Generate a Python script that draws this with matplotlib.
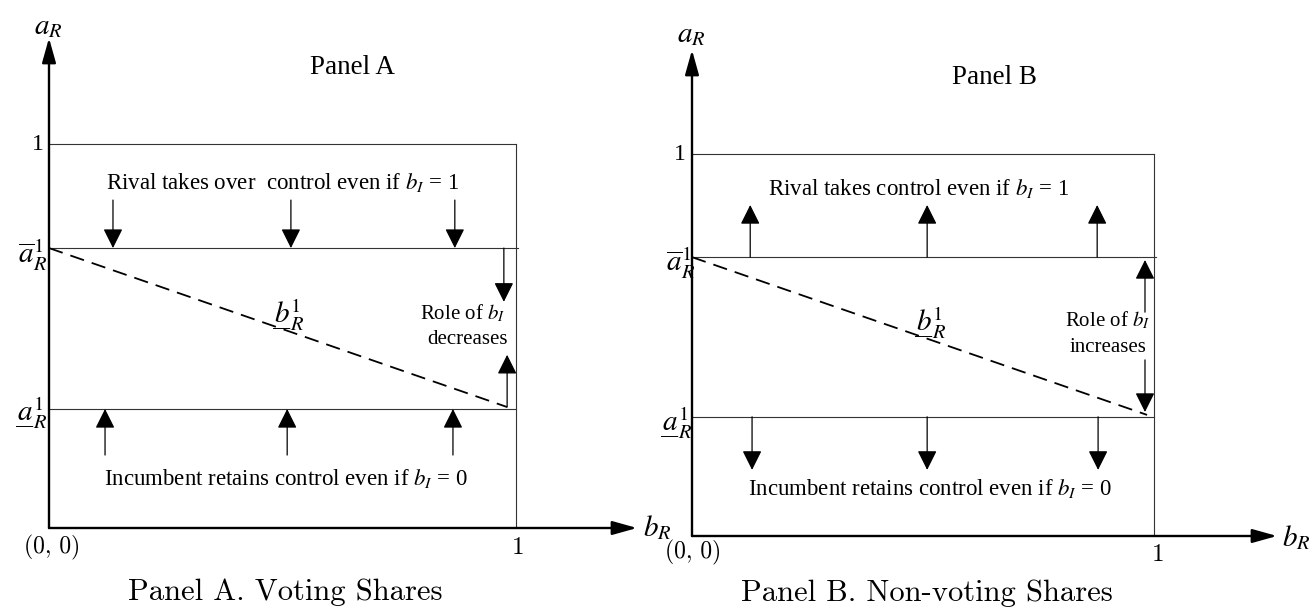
import matplotlib
matplotlib.use("Agg")
import matplotlib.pyplot as plt

plt.rcParams["mathtext.fontset"] = "stix"
plt.rcParams["font.family"] = ["Liberation Serif", "DejaVu Serif"]

# thresholds and arrow positions (a_R, b_R units) for both panels
panel_names = ["Panel A", "Panel B"]
panel_titles = ["Panel A. Voting Shares", "Panel B. Non-voting Shares"]
a_upper = [0.729, 0.730]
a_lower = [0.310, 0.312]
dash_end_x = [0.981, 0.985]
dash_end_y = [0.315, 0.317]
top_arrow_x = [[0.137, 0.518, 0.869], [0.126, 0.509, 0.877]]
bot_arrow_x = [[0.120, 0.510, 0.865], [0.130, 0.509, 0.879]]
top_far = [0.854, 0.8665]
bot_far = [0.190, 0.173]
toward_band = [True, False]
right_x = [[0.974, 0.981], [0.9805, 0.9805]]
right_upper = [(0.729, 0.589), (0.586, 0.7225)]
right_lower = [(0.315, 0.451), (0.461, 0.3246)]
top_text = ["Rival takes over  control even if $b_I$ = 1",
            "Rival takes control even if $b_I$ = 1"]
bot_text = ["Incumbent retains control even if $b_I$ = 0",
            "Incumbent retains control even if $b_I$ = 0"]
role_text = ["decreases", "increases"]

# pixel layout of each panel: origin, (1,1) corner
W, H = 1314, 609
layout = [dict(rect=[0, 0, 0.5, 1], x0=49, x1=516, y0=528, y1=144),
          dict(rect=[0.5, 0, 0.5, 1], x0=692, x1=1154, y0=536, y1=154)]

fig = plt.figure(figsize=(W / 100, H / 100), dpi=100)


def arrow(ax, x0, y0, x1, y1, lw=0.9, ms=12, head="head_length=1.0,head_width=0.5"):
    ax.annotate("", xy=(x1, y1), xytext=(x0, y0),
                arrowprops=dict(arrowstyle="-|>," + head, mutation_scale=ms,
                                lw=lw, color="black", shrinkA=0, shrinkB=0))


for i in range(2):
    L = layout[i]
    ax = fig.add_axes(L["rect"])
    sx = L["x1"] - L["x0"]
    sy = L["y0"] - L["y1"]
    left = L["rect"][0] * W
    right = (L["rect"][0] + L["rect"][2]) * W
    ax.set_xlim((left - L["x0"]) / sx, (right - L["x0"]) / sx)
    ax.set_ylim((L["y0"] - H) / sy, L["y0"] / sy)
    ax.axis("off")

    def P(px, py):
        return (px - L["x0"]) / sx, (L["y0"] - py) / sy

    au, al = a_upper[i], a_lower[i]

    # box lines
    box = dict(color="#333333", lw=0.8)
    ax.plot([0, 1], [1, 1], **box)
    ax.plot([1, 1], [0, 1], **box)
    ax.plot([0, 1.005], [au, au], **box)
    ax.plot([0, 1], [al, al], **box)
    ax.plot([0, dash_end_x[i]], [au, dash_end_y[i]], color="black", lw=1.3,
            linestyle=(0, (8, 4.5)))

    # axes
    xtip = P(637, 0)[0] if i == 0 else P(1277, 0)[0]
    ytip = P(0, 38)[1] if i == 0 else P(0, 50)[1]
    arrow(ax, 0, 0, xtip, 0, lw=1.7, ms=10, head="head_length=1.5,head_width=0.42")
    arrow(ax, 0, 0, 0, ytip, lw=1.7, ms=10, head="head_length=1.5,head_width=0.42")

    # region arrows
    for x in top_arrow_x[i]:
        if toward_band[i]:
            arrow(ax, x, top_far[i], x, au)
        else:
            arrow(ax, x, au, x, top_far[i])
    for x in bot_arrow_x[i]:
        if toward_band[i]:
            arrow(ax, x, bot_far[i], x, al)
        else:
            arrow(ax, x, al, x, bot_far[i])
    arrow(ax, right_x[i][0], right_upper[i][0], right_x[i][0], right_upper[i][1])
    arrow(ax, right_x[i][1], right_lower[i][0], right_x[i][1], right_lower[i][1])

    # labels
    if i == 0:
        pos = dict(aR=(48, 27), panel=(353, 67), top=(283, 183), bot=(286, 478),
                   role=(463, 313), dec=(468, 340), bR1=(288, 315), orig=(52, 547),
                   one=(518, 548), bR=(643, 528), title=(285, 592),
                   abar=(47, 255), alow=(47, 413), ytick=(44, 144))
    else:
        pos = dict(aR=(691, 35), panel=(994, 77), top=(919, 188), bot=(930, 488),
                   role=(1108, 320), dec=(1108, 348), bR1=(930, 323), orig=(693, 552),
                   one=(1158, 555), bR=(1282, 538), title=(927, 593),
                   abar=(695, 263), alow=(692, 423), ytick=(686, 154))

    ax.text(*P(*pos["aR"]), r"$a_R$", fontsize=21, ha="center", va="center")
    ax.text(*P(*pos["bR"]), r"$b_R$", fontsize=21, ha="left", va="center")
    ax.text(*P(*pos["panel"]), panel_names[i], fontsize=19.5, ha="center", va="center")
    ax.text(*P(*pos["top"]), top_text[i], fontsize=16.5, ha="center", va="center")
    ax.text(*P(*pos["bot"]), bot_text[i], fontsize=16.5, ha="center", va="center")
    ax.text(*P(*pos["role"]), r"Role of $b_I$", fontsize=15, ha="center", va="center")
    ax.text(*P(*pos["dec"]), role_text[i], fontsize=15, ha="center", va="center")
    ax.text(*P(*pos["bR1"]), r"$\underset{\_\!\_}{b}{}_R^1$", fontsize=21, ha="center", va="center")
    ax.text(*P(*pos["abar"]), r"$\overline{a}_R^1$", fontsize=21, ha="right", va="center")
    ax.text(*P(*pos["alow"]), r"$\underset{\_\!\_}{a}{}_R^1$", fontsize=21, ha="right", va="center")
    ax.text(*P(*pos["ytick"]), "1", fontsize=17, ha="right", va="center")
    ax.text(*P(*pos["orig"]), "(0, 0)", fontsize=17, family="cmr10", ha="center", va="center")
    ax.text(*P(*pos["one"]), "1", fontsize=18, family="cmr10", ha="center", va="center")
    ax.text(*P(*pos["title"]), panel_titles[i], fontsize=22, family="cmr10",
            ha="center", va="center")

fig.savefig("out.png", dpi=100)
